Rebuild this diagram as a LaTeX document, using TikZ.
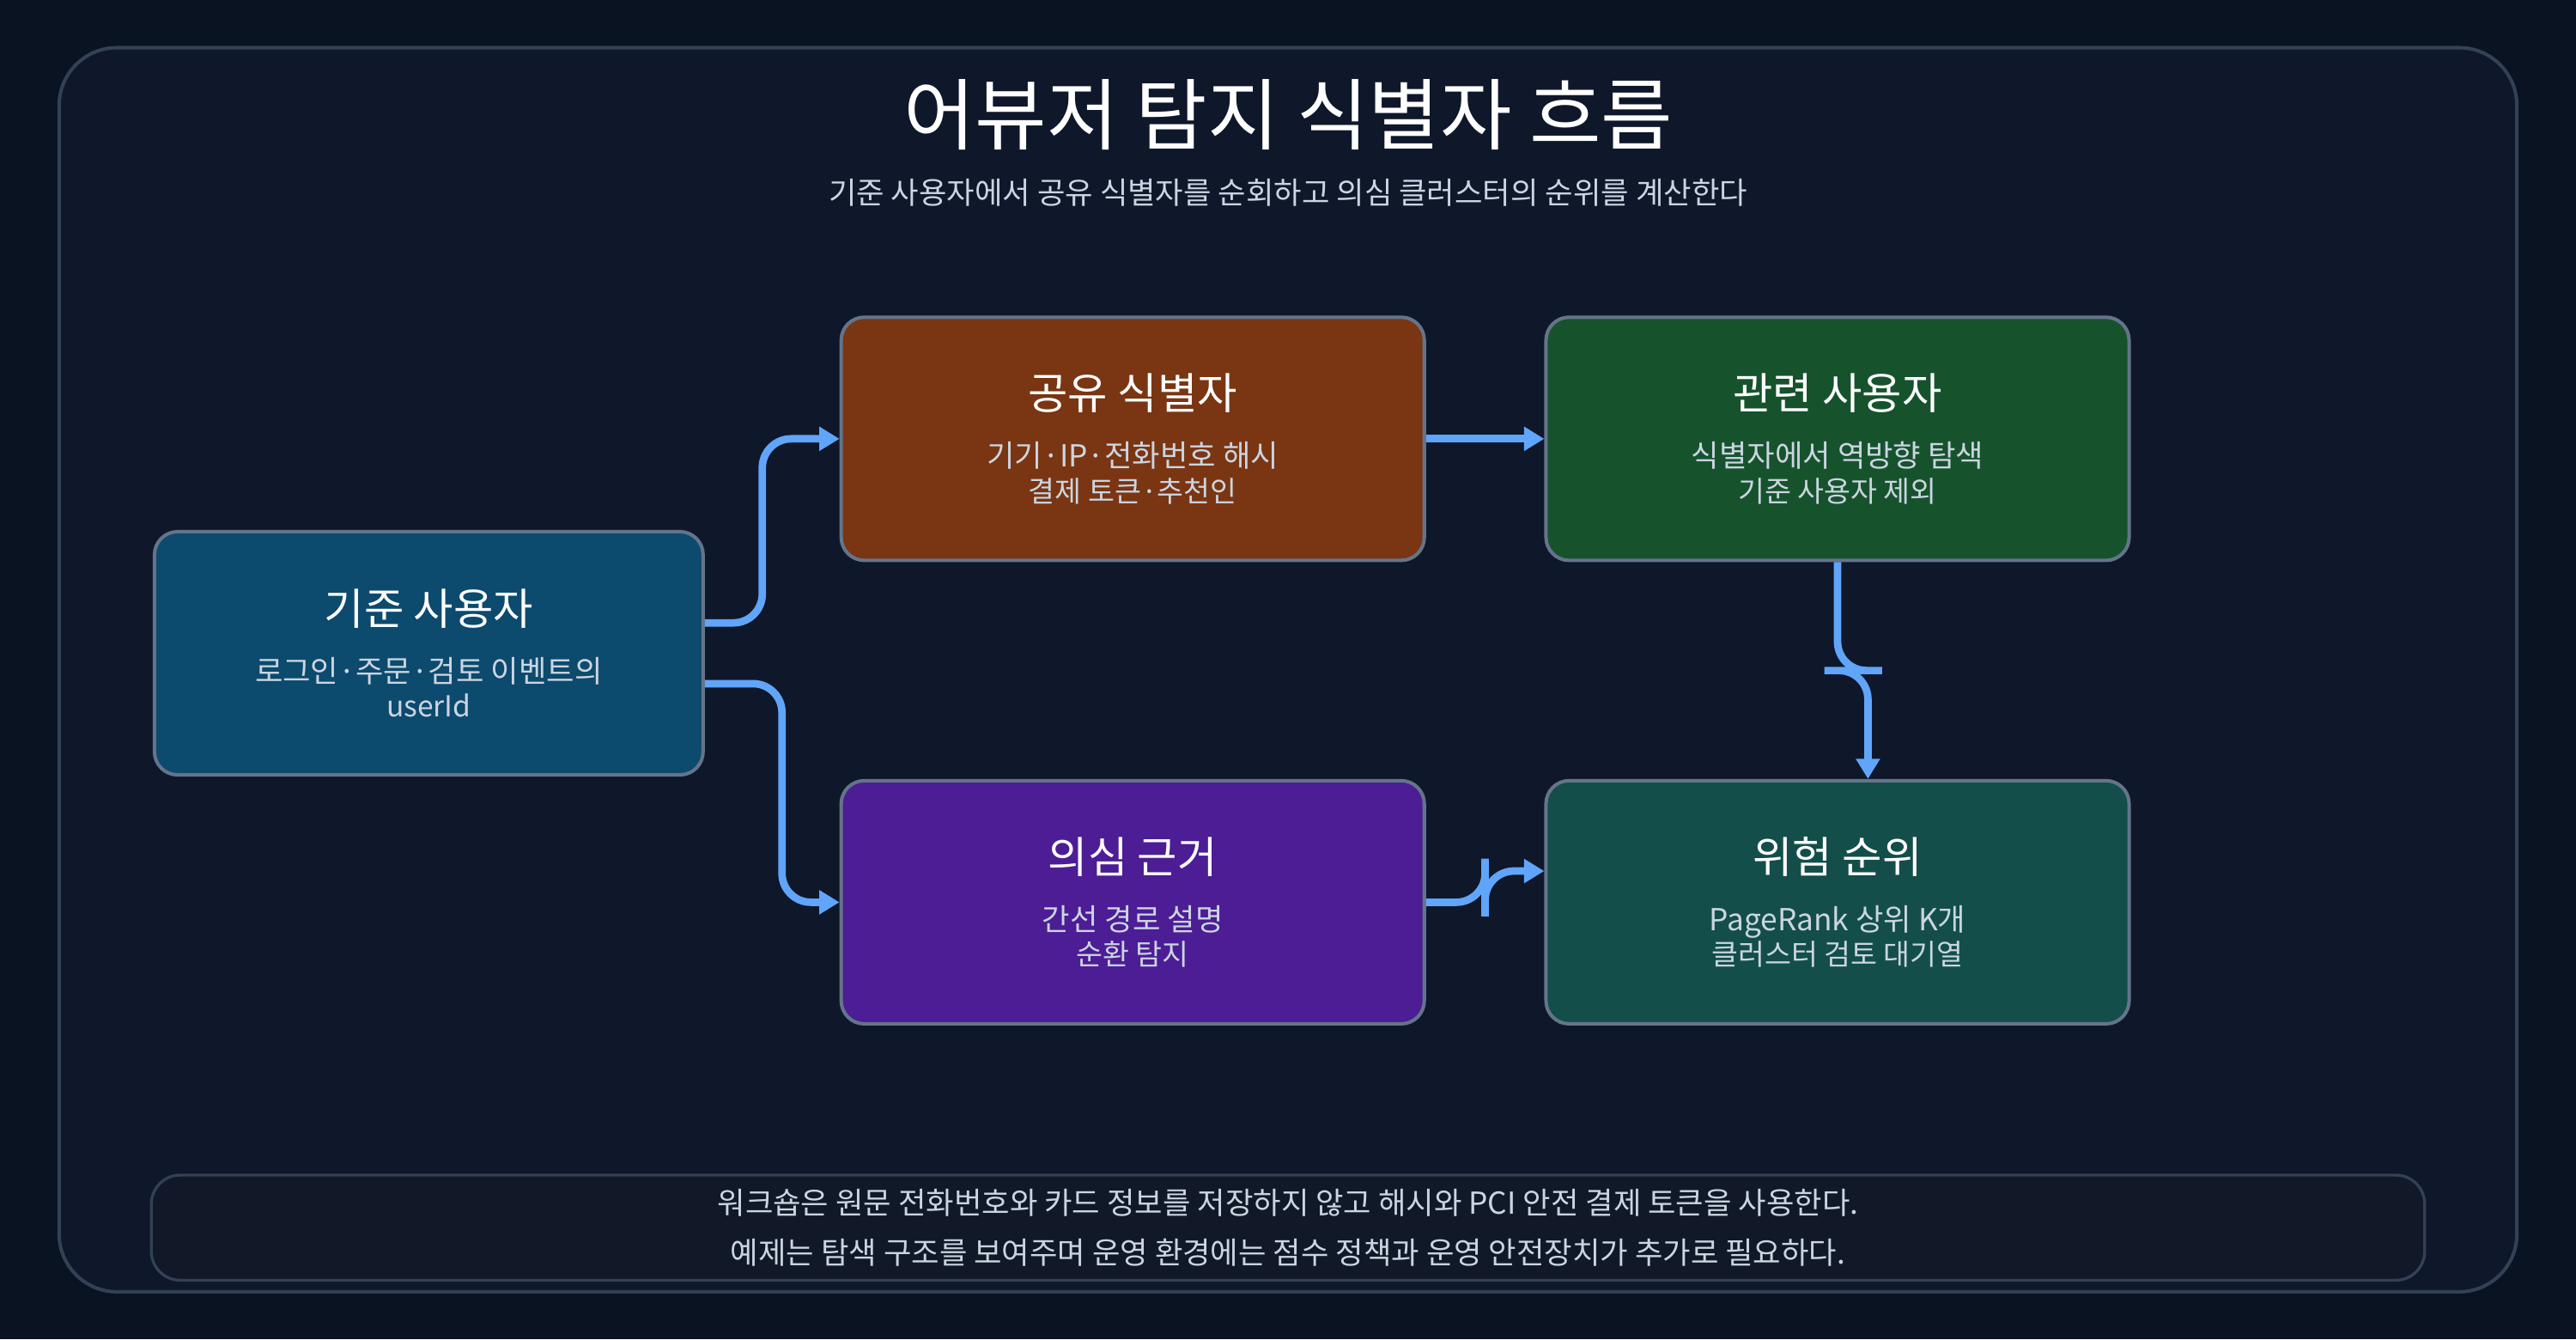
\documentclass[tikz,border=0pt]{standalone}
\usepackage{fontspec}
\setmainfont{Noto Sans CJK KR}
\usetikzlibrary{arrows.meta}
\definecolor{bgpage}{HTML}{0A1322}
\definecolor{bgframe}{HTML}{0F172A}
\definecolor{framecol}{HTML}{334155}
\definecolor{boxline}{HTML}{64748B}
\definecolor{flowcol}{HTML}{60A5FA}
\definecolor{subtext}{HTML}{CBD5E1}
\definecolor{seedfill}{HTML}{0C4A6E}
\definecolor{sharedfill}{HTML}{7A3512}
\definecolor{relatedfill}{HTML}{16532D}
\definecolor{evidencefill}{HTML}{4C1D95}
\definecolor{riskfill}{HTML}{134E4A}
\definecolor{notefill}{HTML}{111827}
\newcommand{\stagehead}{\fontsize{15}{18}\selectfont}
\newcommand{\stagebody}{\fontsize{10.5}{17}\selectfont}
\begin{document}
\begin{tikzpicture}[x=0.02cm, y=-0.02cm,
        stage/.style={rectangle, rounded corners=8pt, draw=boxline, line width=1.2pt, minimum width=7.1cm, minimum height=2.96cm, align=center, text=white},
        seedstage/.style={stage, minimum width=6.68cm},
        flow/.style={-{Triangle[length=7pt,width=8pt]}, line width=2.6pt, draw=flowcol, rounded corners=10pt}
    ]
        \fill[bgpage] (0,0) rectangle (1568,815);
        \draw[fill=bgframe, draw=framecol, line width=1.2pt, rounded corners=20pt] (36,29) rectangle (1532,786);

        \node[text=white, font=\fontsize{27}{32}\selectfont] (title) at (784,70) {어뷰저 탐지 식별자 흐름};
        \node[text=subtext, font=\fontsize{10.5}{13}\selectfont] (subtitle) at (784,117) {기준 사용자에서 공유 식별자를 순회하고 의심 클러스터의 순위를 계산한다};

        \node[seedstage, fill=seedfill] (seed) at (261,397.5) {\stagehead 기준 사용자\\[8pt]\stagebody\textcolor{subtext}{로그인·주문·검토 이벤트의}\\\textcolor{subtext}{userId}};
        \node[stage, fill=sharedfill] (shared) at (689.5,267) {\stagehead 공유 식별자\\[8pt]\stagebody\textcolor{subtext}{기기·IP·전화번호 해시}\\\textcolor{subtext}{결제 토큰·추천인}};
        \node[stage, fill=relatedfill] (related) at (1118.5,267) {\stagehead 관련 사용자\\[8pt]\stagebody\textcolor{subtext}{식별자에서 역방향 탐색}\\\textcolor{subtext}{기준 사용자 제외}};
        \node[stage, fill=evidencefill] (evidence) at (689.5,549) {\stagehead 의심 근거\\[8pt]\stagebody\textcolor{subtext}{간선 경로 설명}\\\textcolor{subtext}{순환 탐지}};
        \node[stage, fill=riskfill] (risk) at (1118.5,549) {\stagehead 위험 순위\\[8pt]\stagebody\textcolor{subtext}{PageRank 상위 K개}\\\textcolor{subtext}{클러스터 검토 대기열}};

        \node[rectangle, rounded corners=10pt, draw=framecol, line width=1pt, fill=notefill, minimum width=27.68cm, minimum height=1.28cm, align=center, text=subtext, font=\stagebody] (note) at (784,747) {워크숍은 원문 전화번호와 카드 정보를 저장하지 않고 해시와 PCI 안전 결제 토큰을 사용한다.\\ 예제는 탐색 구조를 보여주며 운영 환경에는 점수 정책과 운영 안전장치가 추가로 필요하다.};

        \draw[flow] (seed.east |- 0,379) -| (464,320) |- (shared.west);
        \draw[flow] (seed.east |- 0,416) -| (476,480) |- (evidence.west);
        \draw[flow] (shared) -- (related);
        \draw[flow] (related.south) |- (1128,408) -| (risk.north -| 1137,0);
        \draw[flow] (evidence.east) -| (904,540) |- (risk.west |- 0,530);
\end{tikzpicture}
\end{document}
